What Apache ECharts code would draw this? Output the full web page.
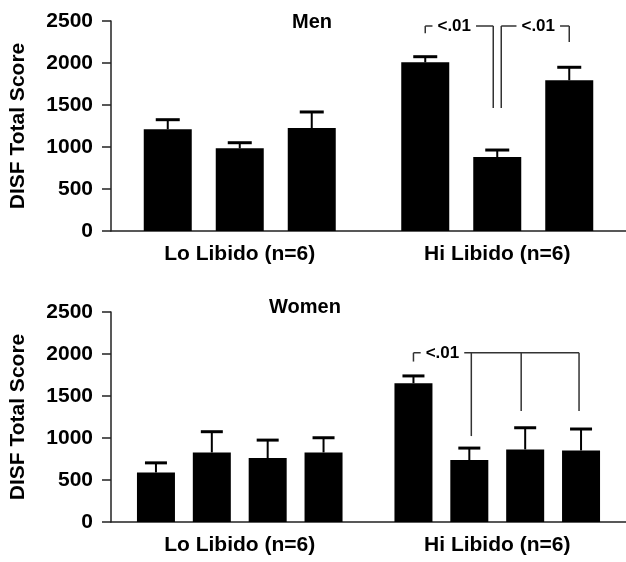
<!DOCTYPE html>
<html>
<head>
<meta charset="utf-8">
<script src="https://cdn.jsdelivr.net/npm/echarts@6/dist/echarts.min.js"></script>
<style>
html,body{margin:0;padding:0;background:#fff;}
#chart{width:626px;height:562px;}
</style>
</head>
<body>
<div id="chart"></div>
<script>
// ---- data ----
const categories = ['Lo Libido (n=6)', 'Hi Libido (n=6)'];
const yTicks = [0, 500, 1000, 1500, 2000, 2500];
const yName = 'DISF Total Score';
const panelTitles = ['Men', 'Women'];

// Men: three bars per group (mean) and upper error value (mean + SEM)
const men1 = [1211, 2008];
const men2 = [984, 881];
const men3 = [1226, 1794];
const men1Err = [1325, 2075];
const men2Err = [1051, 964];
const men3Err = [1417, 1949];

// Women: four bars per group
const women1 = [590, 1652];
const women2 = [828, 737];
const women3 = [761, 864];
const women4 = [828, 852];
const women1Err = [704, 1739];
const women2Err = [1075, 880];
const women3Err = [975, 1122];
const women4Err = [1003, 1107];

// significance brackets: category, bar indices of legs, top value, leg end values
const menBrackets = [
  { cat: 1, legs: [0, 1], top: 2440, ends: [2354, 1464], label: '<.01' },
  { cat: 1, legs: [1, 2], top: 2440, ends: [1464, 2250], label: '<.01' }
];
const womenBrackets = [
  { cat: 1, legs: [0, 1, 2, 3], top: 2014, ends: [1910, 1023, 1322, 1322], label: '<.01' }
];

// ---- styles ----
const FONT = '"Liberation Sans", Arial, Helvetica, sans-serif';
const AXIS_COLOR = '#222';
const panels = [
  { top: 21, height: 210, width: 524, barWidth: 48, gap: 0.5, cap: 24,
    means: [men1, men2, men3], errs: [men1Err, men2Err, men3Err],
    brackets: menBrackets, nudges: [[0, -4], [4, 0]], textOffsets: [29, 37] },
  { top: 312, height: 210, width: 521, barWidth: 38, gap: 0.47, cap: 22,
    means: [women1, women2, women3, women4], errs: [women1Err, women2Err, women3Err, women4Err],
    brackets: womenBrackets, nudges: [[0, 2, -4, -2]], textOffsets: [29] }
];

const grids = [], xAxes = [], yAxes = [], series = [];

panels.forEach((p, gi) => {
  grids.push({ left: 107, top: p.top, width: p.width, height: p.height });
  xAxes.push({
    type: 'category', gridIndex: gi, data: categories,
    axisLine: { lineStyle: { color: AXIS_COLOR, width: 1.5 } },
    axisTick: { alignWithLabel: true, length: 6, lineStyle: { color: AXIS_COLOR, width: 1.5 } },
    axisLabel: { margin: 13, color: '#000', fontFamily: FONT, fontWeight: 'bold', fontSize: 21 }
  });
  yAxes.push({
    type: 'value', gridIndex: gi, min: yTicks[0], max: yTicks[yTicks.length - 1],
    interval: yTicks[1] - yTicks[0],
    name: yName, nameLocation: 'middle', nameGap: 82, nameRotate: 90,
    nameTextStyle: { color: '#000', fontFamily: FONT, fontWeight: 'bold', fontSize: 21 },
    axisLine: { show: true, lineStyle: { color: AXIS_COLOR, width: 1.5 } },
    axisTick: { show: true, length: 9, lineStyle: { color: AXIS_COLOR, width: 1.5 } },
    splitLine: { show: false },
    axisLabel: { margin: 18, color: '#000', fontFamily: FONT, fontWeight: 'bold', fontSize: 21,
                 formatter: v => String(v) }
  });
  const n = p.means.length;
  const step = p.barWidth * (1 + p.gap);
  p.means.forEach((m) => {
    series.push({
      type: 'bar', xAxisIndex: gi, yAxisIndex: gi, data: m,
      barWidth: p.barWidth, barGap: (p.gap * 100) + '%',
      itemStyle: { color: '#000' }, silent: true, animation: false
    });
  });
  p.errs.forEach((e, si) => {
    const means = p.means[si];
    series.push({
      type: 'custom', xAxisIndex: gi, yAxisIndex: gi, animation: false, silent: true, z: 3,
      data: e.map((v, i) => [i, v, means[i]]),
      renderItem: function (params, api) {
        const c = api.coord([api.value(0), api.value(1)]);
        const b = api.coord([api.value(0), api.value(2)]);
        const x = c[0] + (si - (n - 1) / 2) * step;
        return { type: 'group', children: [
          { type: 'line', shape: { x1: x, y1: b[1], x2: x, y2: c[1] }, style: { stroke: '#000', lineWidth: 2 } },
          { type: 'line', shape: { x1: x - p.cap / 2, y1: c[1], x2: x + p.cap / 2, y2: c[1] }, style: { stroke: '#000', lineWidth: 3 } }
        ] };
      }
    });
  });
  series.push({
    type: 'custom', xAxisIndex: gi, yAxisIndex: gi, animation: false, silent: true, z: 4,
    data: p.brackets.map(b => [b.cat, b.top]),
    renderItem: function (params, api) {
      const br = p.brackets[params.dataIndex];
      const nud = p.nudges[params.dataIndex];
      const cx = api.coord([br.cat, 0])[0];
      const xs = br.legs.map((s, i) => cx + (s - (n - 1) / 2) * step + nud[i]);
      const yTop = api.coord([br.cat, br.top])[1];
      const st = { stroke: '#333', lineWidth: 1.5 };
      const children = [
        { type: 'line', shape: { x1: xs[0], y1: yTop, x2: xs[xs.length - 1], y2: yTop }, style: st }
      ];
      xs.forEach((x, i) => {
        children.push({ type: 'line', shape: { x1: x, y1: yTop, x2: x, y2: api.coord([br.cat, br.ends[i]])[1] }, style: st });
      });
      children.push({ type: 'text', x: xs[0] + p.textOffsets[params.dataIndex], y: yTop,
        style: { text: br.label, fill: '#000', font: 'bold 17px ' + FONT, align: 'center', verticalAlign: 'middle',
                 backgroundColor: '#fff', padding: [2, 5] } });
      return { type: 'group', children: children };
    }
  });
});

const titles = [
  { text: panelTitles[0], left: 312, top: 12 },
  { text: panelTitles[1], left: 305, top: 297 }
].map(t => ({ text: t.text, left: t.left, top: t.top, textAlign: 'center', padding: 0,
  textStyle: { color: '#000', fontFamily: FONT, fontWeight: 'bold', fontSize: 20 } }));

const chart = echarts.init(document.getElementById('chart'), null, { renderer: 'canvas' });
chart.setOption({
  backgroundColor: '#fff',
  animation: false,
  title: titles,
  grid: grids, xAxis: xAxes, yAxis: yAxes, series: series
});
</script>
</body>
</html>
